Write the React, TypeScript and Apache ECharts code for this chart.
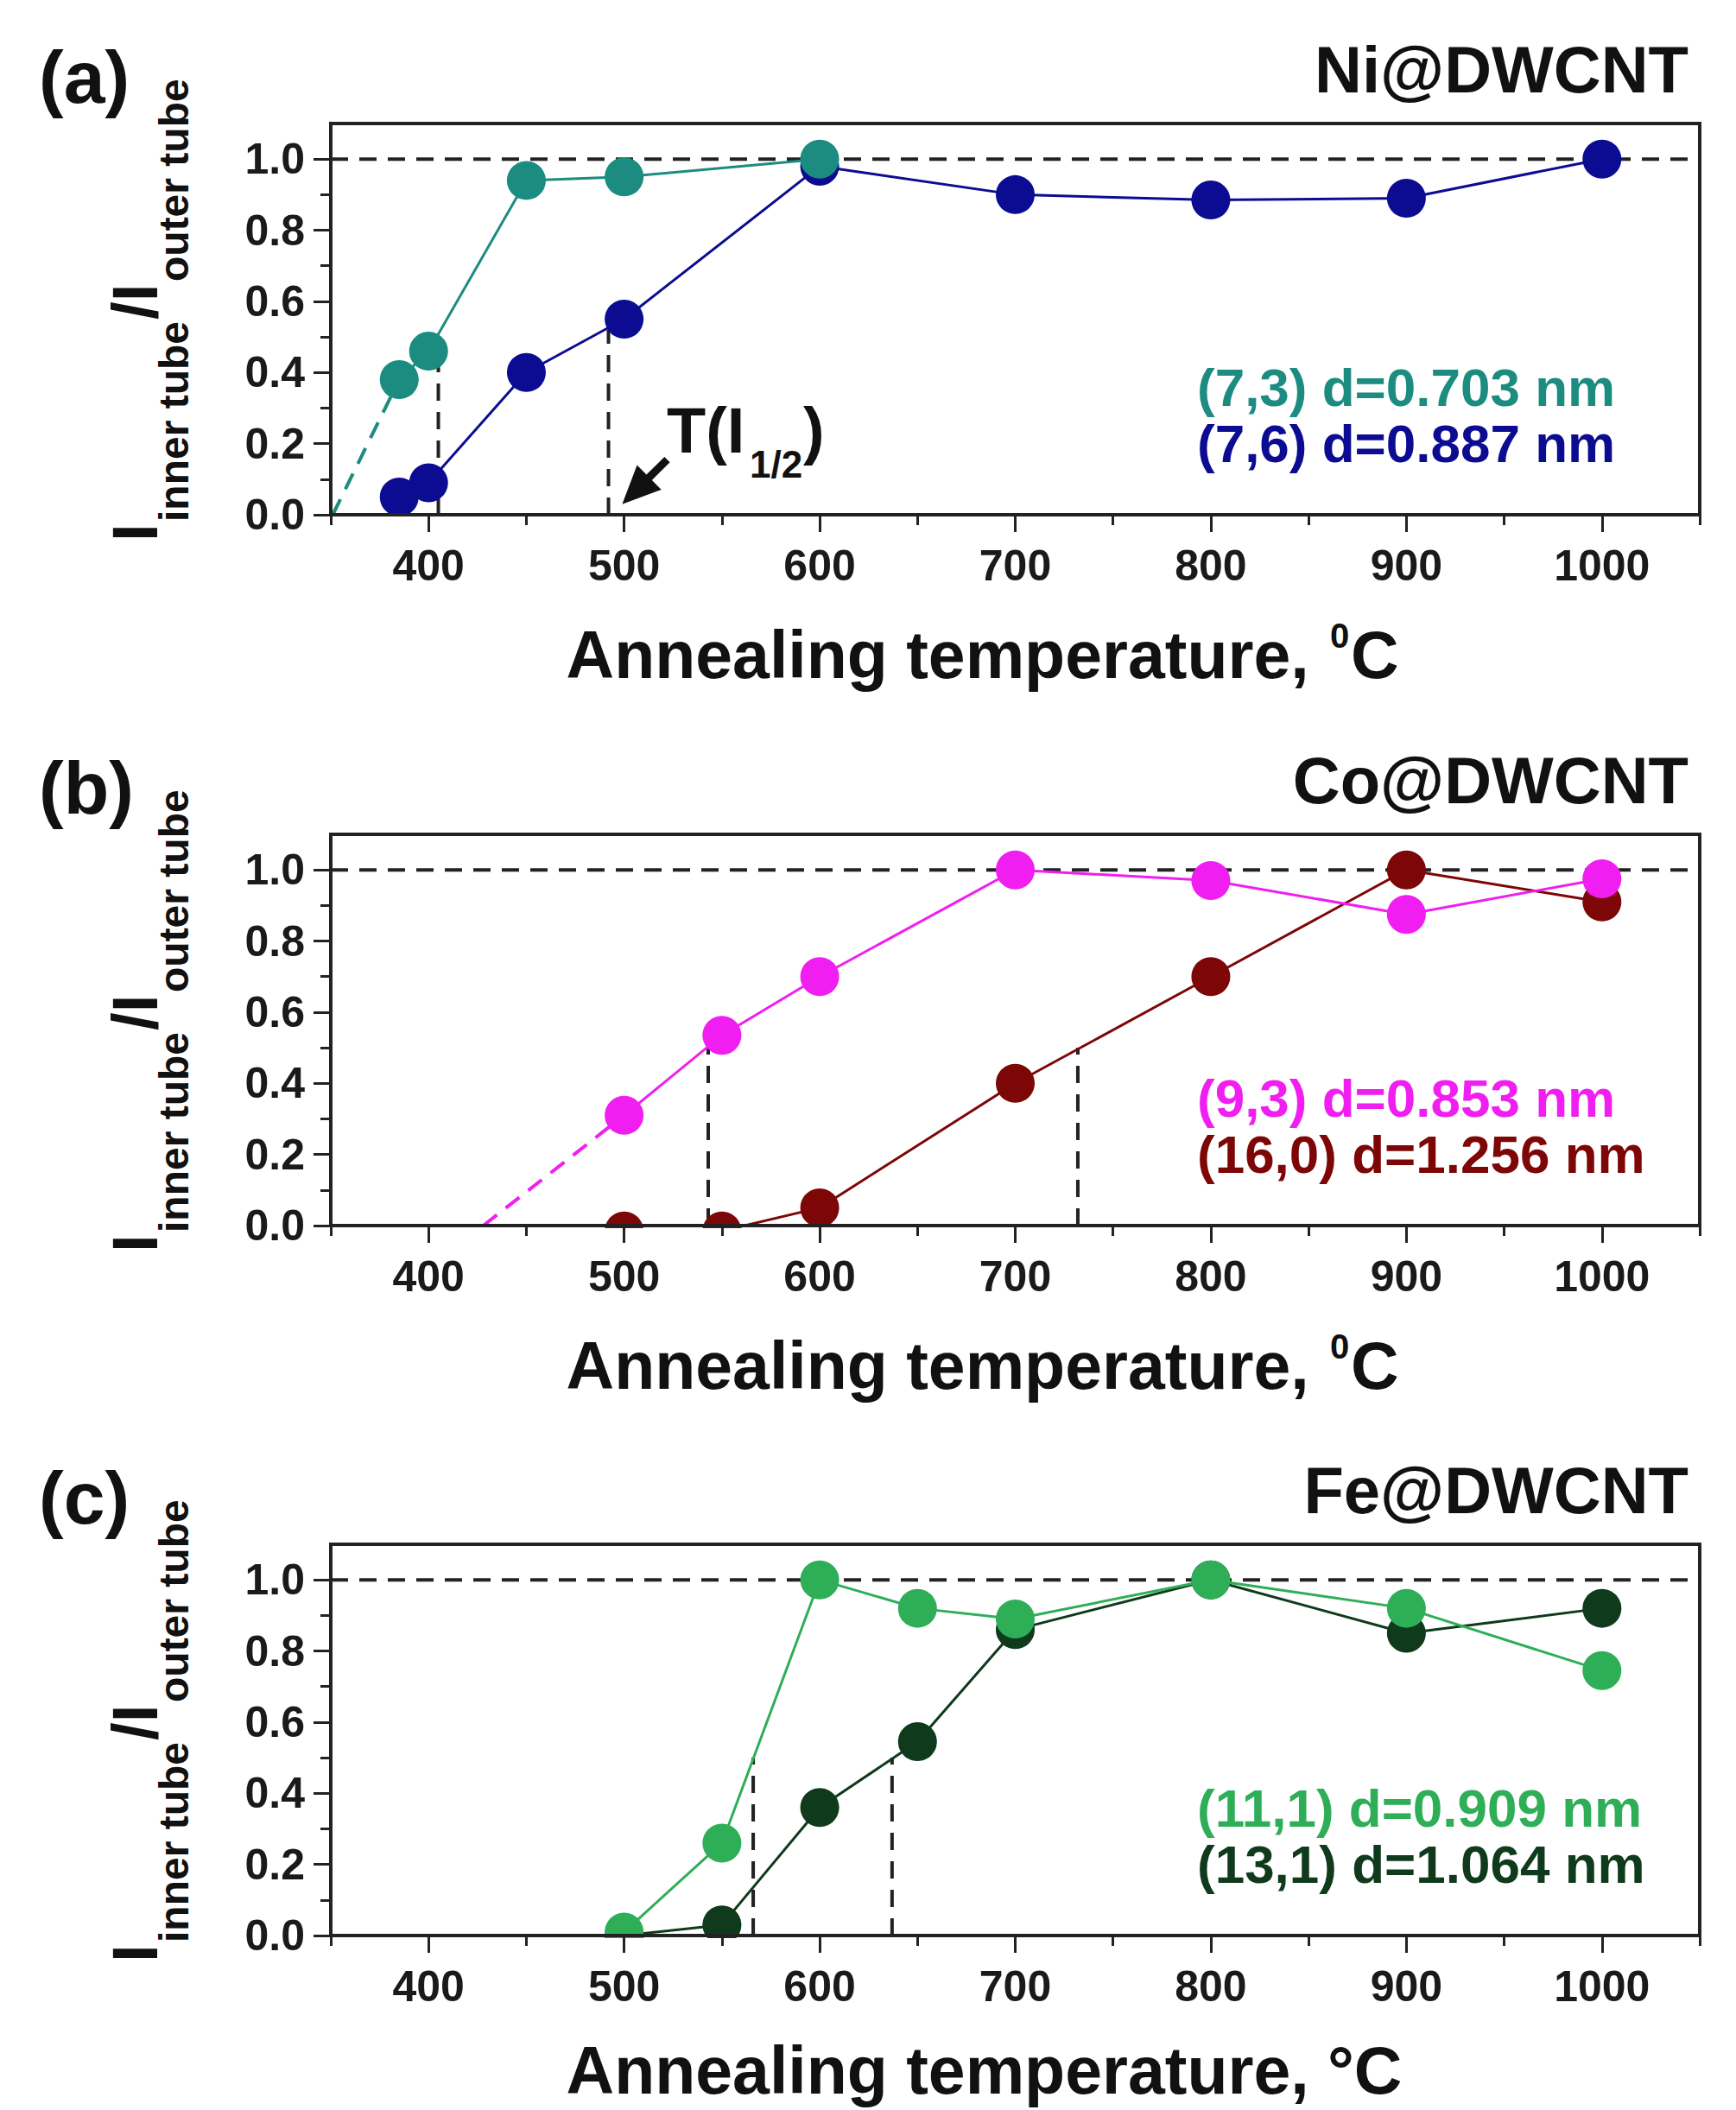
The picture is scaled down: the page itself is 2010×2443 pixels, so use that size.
import React, { useEffect, useRef } from 'react';
import * as echarts from 'echarts';

// ---------- axis values ----------
const X_MIN = 350;
const X_MAX = 1050;
const Y_MIN = 0;
const Y_MAX = 1.1;
const X_MAJOR = [400, 500, 600, 700, 800, 900, 1000];
const X_MINOR = [350, 450, 550, 650, 750, 850, 950, 1050];
const Y_MAJOR = [0, 0.2, 0.4, 0.6, 0.8, 1.0];
const Y_MINOR = [0.1, 0.3, 0.5, 0.7, 0.9];
const REF_LEVEL = 1.0;

// ---------- panel (a) Ni@DWCNT ----------
const T_NI_73 = [385, 400, 450, 500, 600];
const R_NI_73 = [0.38, 0.46, 0.94, 0.95, 1.0];
const T_NI_76 = [385, 400, 450, 500, 600, 700, 800, 900, 1000];
const R_NI_76 = [0.05, 0.09, 0.4, 0.55, 0.98, 0.9, 0.885, 0.89, 1.0];
const EXTRAP_NI_T = [351, 385];
const EXTRAP_NI_R = [0, 0.38];
const HALF_NI_T = [405, 492];
const HALF_NI_R = [0.46, 0.52];
const ARROW_NI_T = [522, 499];
const ARROW_NI_R = [0.155, 0.03];

// ---------- panel (b) Co@DWCNT ----------
const T_CO_93 = [500, 550, 600, 700, 800, 900, 1000];
const R_CO_93 = [0.31, 0.535, 0.7, 1.0, 0.97, 0.875, 0.975];
const T_CO_160 = [500, 550, 600, 700, 800, 900, 1000];
const R_CO_160 = [-0.015, -0.015, 0.05, 0.4, 0.7, 1.0, 0.91];
const EXTRAP_CO_T = [428, 500];
const EXTRAP_CO_R = [0, 0.31];
const HALF_CO_T = [543, 732];
const HALF_CO_R = [0.5, 0.5];

// ---------- panel (c) Fe@DWCNT ----------
const T_FE_111 = [500, 550, 600, 650, 700, 800, 900, 1000];
const R_FE_111 = [0.01, 0.26, 1.0, 0.92, 0.89, 1.0, 0.92, 0.745];
const T_FE_131 = [500, 550, 600, 650, 700, 800, 900, 1000];
const R_FE_131 = [0.0, 0.03, 0.36, 0.545, 0.86, 1.0, 0.85, 0.92];
const HALF_FE_T = [566, 637];
const HALF_FE_R = [0.5, 0.5];

// ---------- texts ----------
const PANEL_LETTERS = ['(a)', '(b)', '(c)'];
const PANEL_TITLES = ['Ni@DWCNT', 'Co@DWCNT', 'Fe@DWCNT'];
const X_TITLE_MAIN = 'Annealing temperature, ';
const X_TITLE_UNITS = ['\u2070C', '\u2070C', '\u00B0C'];
const LEGEND_A = ['(7,3) d=0.703 nm', '(7,6) d=0.887 nm'];
const LEGEND_B = ['(9,3) d=0.853 nm', '(16,0) d=1.256 nm'];
const LEGEND_C = ['(11,1) d=0.909 nm', '(13,1) d=1.064 nm'];

// ---------- colours ----------
const TEAL = '#1b8c7f';
const NAVY = '#0c0c92';
const MAGENTA = '#f01ef0';
const DARKRED = '#7d0606';
const LIGHTGREEN = '#2fae58';
const DARKGREEN = '#0f3a1b';
const INK = '#1a1a1a';

// ---------- layout ----------
const W = 2010;
const H = 2443;
const GRID_LEFT = 383;
const GRID_WIDTH = 1585;
const GRID_HEIGHT = 453;
const PANEL_TOPS = [143, 966, 1788];
const FONT = '"Liberation Sans", Arial, Helvetica, sans-serif';
const font = (size: number) => `bold ${size}px ${FONT}`;

const pairs = (xs: number[], ys: number[]) => xs.map((x, i) => [x, ys[i]]);

function buildOption() {
  const grid: any[] = [];
  const xAxis: any[] = [];
  const yAxis: any[] = [];
  const series: any[] = [];

  PANEL_TOPS.forEach((top, p) => {
    grid.push({
      left: GRID_LEFT, top, width: GRID_WIDTH, height: GRID_HEIGHT,
      show: true, borderColor: '#222', borderWidth: 4, backgroundColor: 'transparent',
    });
    grid.push({ left: GRID_LEFT, top, width: GRID_WIDTH, height: GRID_HEIGHT, show: false });

    xAxis.push({
      type: 'value', gridIndex: 2 * p, min: X_MIN, max: X_MAX, interval: 50, position: 'bottom', z: 10,
      axisLine: { show: true, onZero: false, lineStyle: { color: '#222', width: 4 } },
      axisTick: { show: true, inside: false, length: 20, customValues: X_MAJOR, lineStyle: { color: '#222', width: 3 } },
      axisLabel: {
        show: true, customValues: X_MAJOR, margin: 34, color: INK, fontSize: 50, fontWeight: 'bold', fontFamily: FONT,
        formatter: (v: number) => (v % 100 === 0 && v >= 400 && v <= 1000 ? String(v) : ''),
      },
      splitLine: { show: false },
    });
    xAxis.push({
      type: 'value', gridIndex: 2 * p + 1, min: X_MIN, max: X_MAX, interval: 50, position: 'bottom', z: 10,
      axisLine: { show: false, onZero: false },
      axisTick: { show: true, inside: false, length: 12, customValues: X_MINOR, lineStyle: { color: '#222', width: 3 } },
      axisLabel: { show: false },
      splitLine: { show: false },
    });
    yAxis.push({
      type: 'value', gridIndex: 2 * p, min: Y_MIN, max: Y_MAX, interval: 0.1, position: 'left', z: 10,
      axisLine: { show: true, onZero: false, lineStyle: { color: '#222', width: 4 } },
      axisTick: { show: true, inside: false, length: 20, customValues: Y_MAJOR, lineStyle: { color: '#222', width: 3 } },
      axisLabel: {
        show: true, customValues: Y_MAJOR, margin: 30, color: INK, fontSize: 50, fontWeight: 'bold', fontFamily: FONT,
        formatter: (v: number) => (Math.round(v * 10) % 2 === 0 && v <= 1.0001 ? v.toFixed(1) : ''),
      },
      splitLine: { show: false },
    });
    yAxis.push({
      type: 'value', gridIndex: 2 * p + 1, min: Y_MIN, max: Y_MAX, interval: 0.1, position: 'left', z: 10,
      axisLine: { show: false, onZero: false },
      axisTick: { show: true, inside: false, length: 12, customValues: Y_MINOR, lineStyle: { color: '#222', width: 3 } },
      axisLabel: { show: false },
      splitLine: { show: false },
    });
  });

  const dashed = (p: number, data: number[][], color: string) => ({
    type: 'line', xAxisIndex: 2 * p, yAxisIndex: 2 * p, data, symbol: 'none', clip: false, silent: true,
    lineStyle: { color, width: 4, type: [20, 13] },
  });
  const markers = (p: number, name: string, data: number[][], color: string) => ({
    type: 'line', name, xAxisIndex: 2 * p, yAxisIndex: 2 * p, data, symbol: 'circle', symbolSize: 45,
    clip: false, silent: true,
    itemStyle: { color }, lineStyle: { color, width: 3 },
  });
  const drops = (p: number, ts: number[], rs: number[]) =>
    ts.map((t, i) => dashed(p, [[t, 0], [t, rs[i]]], '#222'));
  const ref = (p: number) => dashed(p, [[X_MIN, REF_LEVEL], [X_MAX, REF_LEVEL]], '#222');

  // (a)
  series.push(ref(0), ...drops(0, HALF_NI_T, HALF_NI_R));
  series.push(dashed(0, pairs(EXTRAP_NI_T, EXTRAP_NI_R), TEAL));
  series.push(markers(0, LEGEND_A[1], pairs(T_NI_76, R_NI_76), NAVY));
  series.push(markers(0, LEGEND_A[0], pairs(T_NI_73, R_NI_73), TEAL));
  // (b)
  series.push(ref(1), ...drops(1, HALF_CO_T, HALF_CO_R));
  series.push(dashed(1, pairs(EXTRAP_CO_T, EXTRAP_CO_R), MAGENTA));
  series.push(markers(1, LEGEND_B[1], pairs(T_CO_160, R_CO_160), DARKRED));
  series.push(markers(1, LEGEND_B[0], pairs(T_CO_93, R_CO_93), MAGENTA));
  // (c)
  series.push(ref(2), ...drops(2, HALF_FE_T, HALF_FE_R));
  series.push(markers(2, LEGEND_C[1], pairs(T_FE_131, R_FE_131), DARKGREEN));
  series.push(markers(2, LEGEND_C[0], pairs(T_FE_111, R_FE_111), LIGHTGREEN));

  return { animation: false, backgroundColor: '#ffffff', grid, xAxis, yAxis, series };
}

function txt(x: number, y: number, text: string, size: number, fill: string, align = 'left', z = 20) {
  return {
    type: 'text', x, y, z, silent: true,
    style: { text, font: font(size), fill, textAlign: align, textVerticalAlign: 'middle', verticalAlign: 'middle', align },
  };
}

function buildGraphic(chart: any) {
  const els: any[] = [];
  const legends = [
    [[LEGEND_A[0], TEAL], [LEGEND_A[1], NAVY]],
    [[LEGEND_B[0], MAGENTA], [LEGEND_B[1], DARKRED]],
    [[LEGEND_C[0], LIGHTGREEN], [LEGEND_C[1], DARKGREEN]],
  ];
  PANEL_TOPS.forEach((top, p) => {
    const bottom = top + GRID_HEIGHT;
    // hide marker parts falling below the x axis (plot clipping)
    els.push({
      type: 'rect', z: 5, silent: true,
      shape: { x: GRID_LEFT + 3, y: bottom + 3, width: GRID_WIDTH - 6, height: 27 },
      style: { fill: '#ffffff' },
    });
    els.push(txt(45, top - 54, PANEL_LETTERS[p], 86, '#111'));
    els.push(txt(1955, top - 63, PANEL_TITLES[p], 76, '#111', 'right'));
    // x-axis title: main part + small raised unit symbol
    const ty = p === 2 ? bottom + 156 : bottom + 162;
    els.push(txt(1537, ty, X_TITLE_MAIN, 77, '#111', 'right'));
    if (p < 2) {
      els.push(txt(1540, ty - 22, '0', 40, '#111'));
      els.push(txt(1564, ty, 'C', 77, '#111'));
    } else {
      els.push(txt(1537, ty, X_TITLE_UNITS[p], 77, '#111'));
    }
    els.push(txt(1386, top + 305, legends[p][0][0], 62, legends[p][0][1]));
    els.push(txt(1386, top + 370, legends[p][1][0], 62, legends[p][1][1]));
    // rotated y-axis title
    els.push({
      type: 'group', x: 183, y: top + 484, rotation: Math.PI / 2, z: 20,
      children: [
        txt(0, -27, 'I', 75, '#111'),
        txt(23, 18, 'inner tube', 48, '#111'),
        txt(257, -27, '/I', 75, '#111'),
        txt(301, 18, 'outer tube', 48, '#111'),
      ],
    });
  });

  // T(I1/2) annotation in panel (a)
  const top = PANEL_TOPS[0];
  els.push(txt(772, top + 355, 'T(I', 74, '#111'));
  els.push(txt(868, top + 394, '1/2', 44, '#111'));
  els.push(txt(930, top + 355, ')', 74, '#111'));

  const from = chart.convertToPixel({ gridIndex: 0 }, [ARROW_NI_T[0], ARROW_NI_R[0]]);
  const to = chart.convertToPixel({ gridIndex: 0 }, [ARROW_NI_T[1], ARROW_NI_R[1]]);
  if (from && to) {
    const dx = to[0] - from[0];
    const dy = to[1] - from[1];
    const len = Math.hypot(dx, dy) || 1;
    const ux = dx / len;
    const uy = dy / len;
    const headLen = 44;
    const half = 20;
    const bx = to[0] - ux * headLen;
    const by = to[1] - uy * headLen;
    els.push({
      type: 'line', z: 20, silent: true,
      shape: { x1: from[0], y1: from[1], x2: bx + ux * 4, y2: by + uy * 4 },
      style: { stroke: '#111', lineWidth: 9 },
    });
    els.push({
      type: 'polygon', z: 20, silent: true,
      shape: { points: [[to[0], to[1]], [bx - uy * half, by + ux * half], [bx + uy * half, by - ux * half]] },
      style: { fill: '#111' },
    });
  }
  return els;
}

export default function App() {
  const ref = useRef<HTMLDivElement>(null);
  useEffect(() => {
    if (!ref.current) return;
    const chart = echarts.init(ref.current, null, { renderer: 'svg' });
    chart.setOption(buildOption());
    chart.setOption({ graphic: { elements: buildGraphic(chart) } });
    return () => chart.dispose();
  }, []);
  return <div ref={ref} style={{ position: 'absolute', left: 0, top: 0, width: W, height: H, background: '#fff' }} />;
}
